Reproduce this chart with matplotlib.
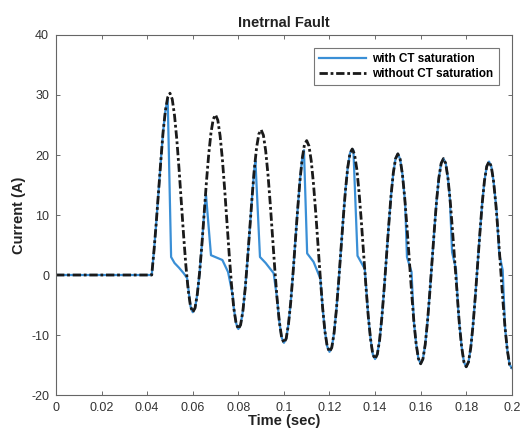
import matplotlib
matplotlib.use("Agg")
import matplotlib.pyplot as plt

# current without CT saturation (sec, A)
t_ref = [0.0,
         0.042, 0.043, 0.044, 0.045, 0.046, 0.047, 0.048, 0.049,
         0.050, 0.051, 0.052, 0.053, 0.054, 0.055, 0.056, 0.057, 0.058, 0.059,
         0.060, 0.061, 0.062, 0.063, 0.064, 0.065, 0.066, 0.067, 0.068, 0.069,
         0.070, 0.071, 0.072, 0.073, 0.074, 0.075, 0.076, 0.077, 0.078, 0.079,
         0.080, 0.081, 0.082, 0.083, 0.084, 0.085, 0.086, 0.087, 0.088, 0.089,
         0.090, 0.091, 0.092, 0.093, 0.094, 0.095, 0.096, 0.097, 0.098, 0.099,
         0.100, 0.101, 0.102, 0.103, 0.104, 0.105, 0.106, 0.107, 0.108, 0.109,
         0.110, 0.111, 0.112, 0.113, 0.114, 0.115, 0.116, 0.117, 0.118, 0.119,
         0.120, 0.121, 0.122, 0.123, 0.124, 0.125, 0.126, 0.127, 0.128, 0.129,
         0.130, 0.131, 0.132, 0.133, 0.134, 0.135, 0.136, 0.137, 0.138, 0.139,
         0.140, 0.141, 0.142, 0.143, 0.144, 0.145, 0.146, 0.147, 0.148, 0.149,
         0.150, 0.151, 0.152, 0.153, 0.154, 0.155, 0.156, 0.157, 0.158, 0.159,
         0.160, 0.161, 0.162, 0.163, 0.164, 0.165, 0.166, 0.167, 0.168, 0.169,
         0.170, 0.171, 0.172, 0.173, 0.174, 0.175, 0.176, 0.177, 0.178, 0.179,
         0.180, 0.181, 0.182, 0.183, 0.184, 0.185, 0.186, 0.187, 0.188, 0.189,
         0.190, 0.191, 0.192, 0.193, 0.194, 0.195, 0.196, 0.197, 0.198, 0.199,
         0.200]
i_ref = [0.0,
         0.0, 4.1, 8.8, 14.0, 19.1, 23.9, 27.4, 29.6,
         30.3, 29.3, 26.6, 22.6, 17.6, 12.0, 6.5, 1.5, -2.5, -5.2,
         -6.2, -5.5, -3.2, 0.4, 5.0, 10.3, 15.5, 20.1, 23.7, 26.0,
         26.7, 25.8, 23.2, 19.3, 14.3, 8.9, 3.4, -1.6, -5.5, -8.0,
         -9.0, -8.3, -6.0, -2.3, 2.4, 7.6, 12.8, 17.6, 21.2, 23.5,
         24.2, 23.3, 20.7, 16.8, 11.9, 6.5, 1.0, -3.9, -7.8, -10.4,
         -11.3, -10.6, -8.2, -4.5, 0.3, 5.6, 10.8, 15.6, 19.3, 21.7,
         22.4, 21.5, 19.0, 15.1, 10.2, 4.8, -0.6, -5.5, -9.4, -11.9,
         -12.8, -12.1, -9.7, -5.9, -1.2, 4.1, 9.3, 14.1, 17.9, 20.3,
         21.0, 20.1, 17.6, 13.7, 8.8, 3.5, -1.9, -6.8, -10.6, -13.2,
         -14.0, -13.2, -10.8, -7.0, -2.2, 3.1, 8.3, 13.2, 17.0, 19.4,
         20.2, 19.3, 16.8, 12.9, 8.0, 2.7, -2.7, -7.6, -11.4, -13.9,
         -14.8, -14.0, -11.6, -7.8, -3.0, 2.3, 7.5, 12.4, 16.2, 18.6,
         19.4, 18.6, 16.1, 12.2, 7.3, 2.1, -3.3, -8.2, -12.0, -14.5,
         -15.3, -14.5, -12.1, -8.3, -3.5, 1.8, 7.0, 11.9, 15.7, 18.1,
         18.9, 18.1, 15.6, 11.8, 7.0, 1.6, -3.8, -8.6, -12.4, -14.9,
         -15.5]

# current with CT saturation (sec, A)
t_sat = [0.0,
         0.042, 0.043, 0.044, 0.045, 0.046, 0.047, 0.048, 0.049,
         0.0505, 0.052, 0.054, 0.056, 0.0575, 0.059,
         0.060, 0.061, 0.062, 0.063, 0.064, 0.065, 0.0658,
         0.068, 0.073, 0.0755, 0.0775, 0.078, 0.079,
         0.080, 0.081, 0.082, 0.083, 0.084, 0.085, 0.086, 0.087, 0.0875,
         0.0895, 0.092, 0.0955, 0.097, 0.098, 0.099,
         0.100, 0.101, 0.102, 0.103, 0.104, 0.105, 0.106, 0.107, 0.108, 0.1088,
         0.1102, 0.113, 0.116, 0.117, 0.118, 0.119,
         0.120, 0.121, 0.122, 0.123, 0.124, 0.125, 0.126, 0.127, 0.128, 0.129,
         0.130, 0.1305, 0.1323, 0.1355, 0.137, 0.138, 0.139,
         0.140, 0.141, 0.142, 0.143, 0.144, 0.145, 0.146, 0.147, 0.148, 0.149,
         0.150, 0.151, 0.152, 0.153, 0.1532, 0.154, 0.156, 0.157, 0.158, 0.159,
         0.160, 0.161, 0.162, 0.163, 0.164, 0.165, 0.166, 0.167, 0.168, 0.169,
         0.170, 0.171, 0.172, 0.1728, 0.1738, 0.1755, 0.1765, 0.177, 0.178, 0.179,
         0.180, 0.181, 0.182, 0.183, 0.184, 0.185, 0.186, 0.187, 0.188, 0.189,
         0.190, 0.191, 0.192, 0.193, 0.1933, 0.1945, 0.196, 0.197, 0.198, 0.199,
         0.200]
i_sat = [0.0,
         0.0, 4.1, 8.8, 14.0, 19.1, 23.9, 27.4, 29.4,
         3.0, 2.0, 1.2, 0.3, -0.5, -5.2,
         -6.2, -5.5, -3.2, 0.4, 5.0, 10.3, 13.4,
         3.3, 2.5, 0.5, -3.3, -5.5, -8.0,
         -9.0, -8.3, -6.0, -2.3, 2.4, 7.6, 12.8, 17.6, 19.0,
         3.0, 2.0, 0.3, -3.9, -7.8, -10.4,
         -11.3, -10.6, -8.2, -4.5, 0.3, 5.6, 10.8, 15.6, 19.3, 20.8,
         3.6, 2.2, -0.6, -5.5, -9.4, -11.9,
         -12.8, -12.1, -9.7, -5.9, -1.2, 4.1, 9.3, 14.1, 17.9, 20.3,
         21.0, 20.8, 3.2, 1.0, -6.8, -10.6, -13.2,
         -14.0, -13.2, -10.8, -7.0, -2.2, 3.1, 8.3, 13.2, 17.0, 19.4,
         20.2, 19.3, 16.8, 12.9, 12.0, 3.0, 0.5, -7.6, -11.4, -13.9,
         -14.8, -14.0, -11.6, -7.8, -3.0, 2.3, 7.5, 12.4, 16.2, 18.6,
         19.4, 18.6, 16.1, 13.0, 3.8, 1.0, -5.9, -8.2, -12.0, -14.5,
         -15.3, -14.5, -12.1, -8.3, -3.5, 1.8, 7.0, 11.9, 15.7, 18.1,
         18.9, 18.1, 15.6, 11.8, 10.8, 3.5, 0.8, -8.6, -12.4, -14.9,
         -15.5]

x_ticks = [0, 0.02, 0.04, 0.06, 0.08, 0.1, 0.12, 0.14, 0.16, 0.18, 0.2]
x_labels = ['0', '0.02', '0.04', '0.06', '0.08', '0.1', '0.12', '0.14', '0.16', '0.18', '0.2']
y_ticks = [-20, -10, 0, 10, 20, 30, 40]

plt.rcParams['font.family'] = ['Liberation Sans', 'DejaVu Sans']
plt.rcParams['axes.unicode_minus'] = False

fig = plt.figure(figsize=(5.26, 4.32), dpi=100)
ax = fig.add_axes([0.1065, 0.0856, 0.8665, 0.8334])

ax.plot(t_sat, i_sat, color='#3a8fd6', linewidth=1.6, label='with CT saturation')
ax.plot(t_ref, i_ref, color='#1a1a1a', linewidth=2.0, linestyle=(0, (3, 1, 1, 1)),
        label='without CT saturation')

ax.set_xlim(0, 0.2)
ax.set_ylim(-20, 40)
ax.set_xticks(x_ticks)
ax.set_xticklabels(x_labels)
ax.set_yticks(y_ticks)
ax.tick_params(direction='in', top=True, right=True, length=3, labelsize=9,
               labelcolor='#333333', color='#555555', width=0.6, pad=5)
for s in ax.spines.values():
    s.set_color('#666666')
    s.set_linewidth(0.8)

ax.set_title('Inetrnal Fault', fontsize=10.5, fontweight='bold', pad=6, color='#222222')
ax.set_xlabel('Time (sec)', fontsize=10.5, fontweight='bold', labelpad=0, color='#222222')
ax.set_ylabel('Current (A)', fontsize=10.5, fontweight='bold', labelpad=4, color='#222222')

leg = ax.legend(loc='upper right', fancybox=False, edgecolor='#777777',
                borderaxespad=1.1, handlelength=4.0, handletextpad=0.5,
                labelspacing=0.2, borderpad=0.45, framealpha=1,
                prop={'weight': 'bold', 'size': 8.5})
leg.get_frame().set_linewidth(0.8)

fig.savefig('out.png', dpi=100)
